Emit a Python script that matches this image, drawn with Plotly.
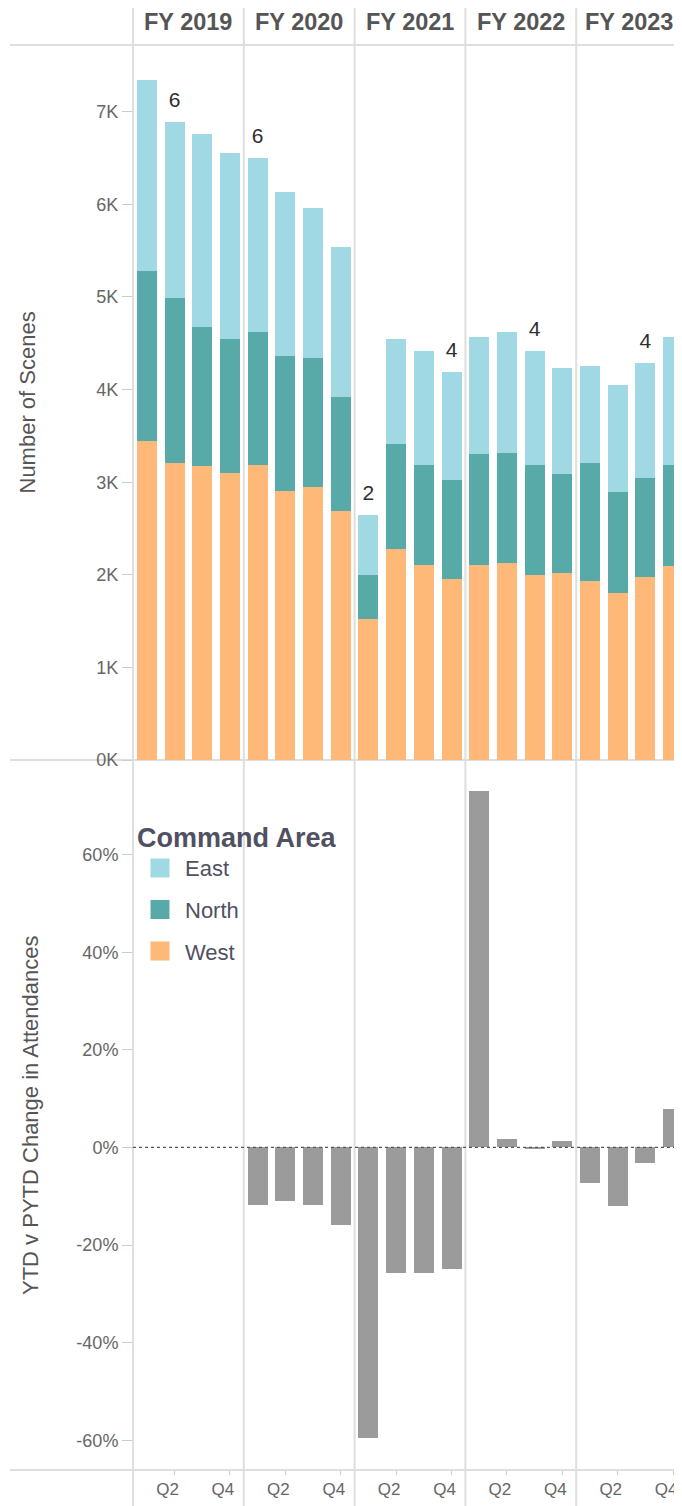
import plotly.graph_objects as go
from plotly.subplots import make_subplots

years = ["FY 2019", "FY 2020", "FY 2021", "FY 2022", "FY 2023"]
quarters = ["Q1", "Q2", "Q3", "Q4"]
areas = ["East", "North", "West"]

west = [[3450, 3210, 3170, 3100], [3190, 2910, 2950, 2690], [1520, 2280, 2110, 1960],
        [2110, 2130, 2000, 2020], [1930, 1800, 1980, 2090]]
north = [[1830, 1780, 1510, 1450], [1430, 1450, 1390, 1230], [480, 1130, 1080, 1060],
         [1190, 1190, 1190, 1070], [1280, 1090, 1060, 1100]]
east = [[2060, 1900, 2080, 2010], [1880, 1770, 1620, 1620], [650, 1140, 1230, 1170],
        [1270, 1300, 1230, 1140], [1040, 1160, 1250, 1380]]
bar_labels = [["", "6", "", ""], ["6", "", "", ""], ["2", "", "", "4"],
              ["", "", "4", ""], ["", "", "4", ""]]
ytd_change = [[None, None, None, None], [-11.8, -11.0, -11.8, -15.9], [-59.5, -25.8, -25.8, -25.0],
              [73.0, 1.8, -0.3, 1.4], [-7.2, -12.0, -3.1, 7.9]]

scene_ticks = [0, 1000, 2000, 3000, 4000, 5000, 6000, 7000]
scene_tick_text = ["0K", "1K", "2K", "3K", "4K", "5K", "6K", "7K"]
pct_ticks = [-60, -40, -20, 0, 20, 40, 60]
pct_tick_text = ["-60%", "-40%", "-20%", "0%", "20%", "40%", "60%"]
x_tick_vals = ["Q2", "Q4"]

colors = {"East": "#a0d9e4", "North": "#58aaa8", "West": "#feb877"}
gray_bar = "#9b9b9b"
FONT = "Liberation Sans"

# page body has an 8px margin; figure sized so its right/bottom edges meet the window
W, H = 674, 1498
ML, MT, MB = 125, 37, 36
plot_w = W - ML
plot_h = H - MT - MB

fig = make_subplots(rows=2, cols=5, column_widths=[110.8] * 4 + [105.8],
                    row_heights=[715, 710], horizontal_spacing=0, vertical_spacing=0)

series = {"West": west, "North": north, "East": east}
for i, fy in enumerate(years):
    col = i + 1
    for name in ("West", "North", "East"):
        fig.add_trace(go.Bar(x=quarters, y=series[name][i], name=name,
                             marker_color=colors[name], marker_line_width=0,
                             legendgroup=name, showlegend=False), row=1, col=col)
    totals = [w + n + e for w, n, e in zip(west[i], north[i], east[i])]
    fig.add_trace(go.Scatter(x=quarters, y=totals, text=bar_labels[i], mode="markers+text",
                             marker=dict(size=14, opacity=0), textposition="top center",
                             cliponaxis=False, showlegend=False,
                             textfont=dict(family=FONT, size=21, color="#2e2e2e"),
                             hoverinfo="skip"), row=1, col=col)
    fig.add_trace(go.Bar(x=quarters, y=ytd_change[i], marker_color=gray_bar,
                         marker_line_width=0, showlegend=False, name=fy), row=2, col=col)

# legend entries (square swatches)
for rank, name in enumerate(areas):
    fig.add_trace(go.Scatter(x=[None], y=[None], mode="markers", name=name,
                             legendgroup=name, legendrank=rank + 1,
                             marker=dict(symbol="square", size=16, color=colors[name],
                                         line=dict(color=colors[name], width=3))),
                  row=2, col=1)

fig.update_layout(
    width=W, height=H, barmode="stack", bargap=0.28,
    margin=dict(l=ML, r=0, t=MT, b=MB, autoexpand=False),
    paper_bgcolor="white", plot_bgcolor="white",
    font=dict(family=FONT, size=17, color="#666666"),
    legend=dict(x=(-6 + 8) / plot_w, y=1 - (812 - 45) / plot_h, xanchor="left", yanchor="top",
                traceorder="grouped", tracegroupgap=10, itemwidth=40,
                title=dict(text="<b>Command Area</b>", font=dict(size=27, color="#505062")),
                font=dict(size=22, color="#505062"), bgcolor="rgba(0,0,0,0)"),
)

for i in range(5):
    col = i + 1
    rng = [-0.5, 3.5] if i < 4 else [-0.5, 3.32]
    fig.update_xaxes(row=1, col=col, range=rng, showticklabels=False, ticks="",
                     showgrid=False, zeroline=False, showline=False, automargin=False)
    fig.update_xaxes(row=2, col=col, range=rng, tickvals=x_tick_vals, ticks="outside",
                     ticklen=4, tickcolor="#cccccc", showgrid=False, zeroline=False,
                     showline=False, automargin=False, ticklabelshift=-7,
                     tickfont=dict(size=17, color="#666666"))
    fig.update_yaxes(row=1, col=col, range=[0, 7721], tickvals=scene_ticks,
                     ticktext=scene_tick_text, showgrid=False, zeroline=False, showline=False,
                     showticklabels=(i == 0), ticks="outside" if i == 0 else "",
                     ticklen=10, tickcolor="#cccccc", automargin=False,
                     tickfont=dict(size=18, color="#666666"))
    fig.update_yaxes(row=2, col=col, range=[-66.1, 79.4], tickvals=pct_ticks,
                     ticktext=pct_tick_text, showgrid=False, zeroline=False, showline=False,
                     showticklabels=(i == 0), ticks="outside" if i == 0 else "",
                     ticklen=10, tickcolor="#cccccc", automargin=False,
                     tickfont=dict(size=18, color="#666666"))

line_col = "#dedede"
# horizontal separators
for yp in (1.0, 710 / plot_h, 0.0):
    fig.add_shape(type="line", xref="paper", yref="paper", x0=(2 - ML) / plot_w, x1=1,
                  y0=yp, y1=yp, line=dict(color=line_col, width=2), layer="below")
# vertical dividers
for i in range(5):
    xr = "x domain" if i == 0 else f"x{i + 1} domain"
    fig.add_shape(type="line", xref=xr, yref="paper", x0=0, x1=0,
                  y0=-MB / plot_h, y1=1 + MT / plot_h, line=dict(color=line_col, width=2),
                  layer="below")
# dotted zero line in lower panel
fig.add_shape(type="line", xref="paper", yref="y6", x0=0, x1=1, y0=0, y1=0,
              line=dict(color="#555555", width=1.2, dash="dot"), layer="above")

# column headers
for i, fy in enumerate(years):
    xr = "x domain" if i == 0 else f"x{i + 1} domain"
    fig.add_annotation(text=f"<b>{fy}</b>", xref=xr, x=0.5, yref="paper",
                       y=1 + 23 / plot_h, yanchor="middle", showarrow=False,
                       font=dict(family=FONT, size=23.5, color="#555555"))

# axis titles
fig.add_annotation(text="Number of Scenes", textangle=-90, xref="paper", x=(19 - ML) / plot_w,
                   yref="y domain", y=0.5, showarrow=False, xanchor="center", yanchor="middle",
                   font=dict(family=FONT, size=22, color="#555555"))
fig.add_annotation(text="YTD v PYTD Change in Attendances", textangle=-90, xref="paper",
                   x=(22 - ML) / plot_w, yref="y6 domain", y=0.5, showarrow=False,
                   xanchor="center", yanchor="middle",
                   font=dict(family=FONT, size=22, color="#555555"))

fig.write_html("out.html")
